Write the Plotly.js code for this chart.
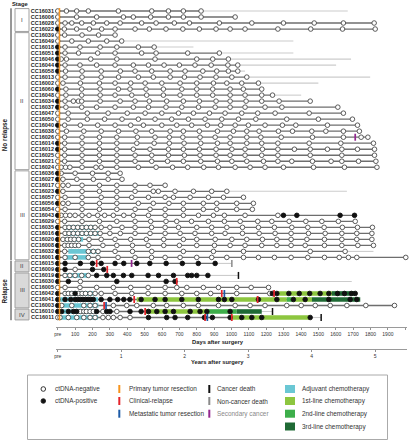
<!DOCTYPE html>
<html><head><meta charset="utf-8">
<script src="https://cdn.plot.ly/plotly-3.0.1.min.js"></script>
<style>html,body{margin:0;padding:0;background:#fff}#chart{width:411px;height:440px}</style>
</head><body><div id="chart"></div>
<script>
// ---------------- DATA ----------------
const patients = ['CC16031','CC16006','CC16028','CC16022',
 'CC16039','CC16049','CC16018','CC16051','CC16046','CC16044','CC16058','CC16013','CC16002','CC16060','CC16048','CC16034','CC16037','CC16047','CC16050','CC16040','CC16038','CC16026','CC16014','CC16012','CC16025','CC16021','CC16024',
 'CC16036','CC16027','CC16017','CC16023','CC16057','CC16056','CC16054','CC16043','CC16029','CC16035','CC16016','CC16020','CC16008','CC16032','CC16001',
 'CC16015','CC16009','CC16019','CC16030','CC16005','CC16042','CC16041','CC16003','CC16010','CC16011'];

// ctDNA-negative sample days per patient
const negDays = [
 [0,50,109,176,349,541,637,723,825],
 [0,109,224,378,435,535,637,723,825,1021],
 [0,42,81,138,205,282,359,483,566,671,758,930,1117,1299,1476,1644,1821],
 [38,109,182,253,330,445,527,623,720,815,911,992,1078,1267,1456,1639,1827],
 [0,40,140,235,330],
 [0,81,176,282,368],
 [42,128,244,340,464,555],
 [42,120,230,330,483,566,748,930],
 [20,50,190,340,560,800,892,982],
 [42,128,224,330,435,522,612,700,790,883,979,1036],
 [45,140,250,360,445,541,647,733,835,915,982,1036],
 [0,42,140,250,350,464,550,647,729,819,911,1002,1088],
 [0,30,130,240,330,420,503,599,704,800,896,973,1059,1155],
 [47,138,244,349,416,508,608,714,800,892,992,1068,1174],
 [0,47,138,244,330,426,512,608,704,800,892,992,1078,1174,1236],
 [42,90,119,138,244,359,445,527,627,723,815,911,992,1084,1174,1274,1453],
 [47,138,224,330,435,522,623,714,810,906,992,1078,1193,1290,1612],
 [0,60,170,290,400,503,599,695,781,873,963,1059,1151,1251,1447,1644],
 [0,60,170,270,370,464,560,656,752,848,944,1040,1140,1318,1500,1696],
 [40,130,230,330,420,493,599,685,771,861,938,1021,1097,1193,1293,1370,1552,1725],
 [0,50,150,250,350,450,541,647,723,815,919,1011,1088,1159,1270,1351,1462,1543,1644,1736],
 [0,40,140,240,340,458,560,642,720,819,906,992,1088,1169,1286,1466,1644,1746,1785],
 [40,140,240,340,455,555,642,727,823,919,992,1088,1174,1267,1447,1629,1817],
 [40,140,240,340,435,531,637,723,815,911,1002,1078,1178,1267,1362,1453,1552,1635,1725,1823],
 [0,40,140,240,340,445,541,637,729,819,911,992,1078,1174,1267,1453,1635,1823],
 [0,40,140,240,340,445,541,632,723,823,919,1002,1088,1184,1267,1347,1466,1573,1635,1731,1831],
 [0,20,45,70,140,220,250,340,464,566,661,748,840,925,1021,1107,1193,1299,1472,1650,1837],
 [20,100,200,290,359],
 [30,110,205,290,370],
 [0,30,60,140,240,340,445,531,618],
 [30,140,240,340,445,550,579,675,781,886,973],
 [0,42,140,250,340,426,522,618,666,762,867,954,1069],
 [30,60,140,240,340,464,550,640,723,838,915,1030,1126],
 [0,42,140,240,340,445,531,618,723,838,915,1030,1120],
 [20,45,70,100,140,180,230,270,320,380,435,522,618,723,810,896,959,1078,1267],
 [0,40,140,240,340,445,535,623,685,770,867,959,1050,1151,1232,1332,1428,1520,1615,1712],
 [42,65,90,115,140,165,190,215,250,300,370,445,540,618,695,800,886,973,1063,1155,1247,1347,1439,1533,1638,1725,1811],
 [42,65,90,115,140,165,190,215,244,300,360,445,531,618,704,790,886,963,1063,1159,1251,1343,1443,1539,1635,1721,1808],
 [30,55,75,95,120,180,250,330,420,510,610,723,800,906,1002,1088,1178,1261,1343,1434,1535,1635,1721,1808],
 [40,60,80,100,120,180,260,340,430,520,610,700,800,902,992,1078,1174,1261,1343,1424,1535,1635,1727,1817],
 [40,176,205,232,330,430,541,723,896,1069,1453,1654],
 [42,100,176,232,347,445,540,618,704,800,886,973,1069,1155,1247,1343,1439,1535,1620,1673,1721,2003],
 [],
 [100],
 [42,70,100,138,176],
 [130],
 [0,42,128,224,320,420,520,618,685,743,838,925,1030,1113,1213],
 [42,61,81,120,140,160,186,215,250,330,426,520,618,714,800,880,1030,1220],
 [],
 [23,81,150,186,215,320,397,455,550,627,723,809,925,1021,1107,1193,1318,1401,1482,1568,1664,1773,1938],
 [130,150,165,186,205,260,340],
 [0,13,61,109,150,186,215,260,291,320,359,416]
];

// ctDNA-positive sample days per patient
const posDays = [
 [],[],[],[0],
 [],[],[0],[0],[0],[0],[0],[],[],[0],[],[0],[0],[],[],[0],[],[],[0],[0],[],[],[],
 [0],[0],[],[0],[],[0],[],[0,1299,1376,1625,1708],[],[0],[0],[0],[0],[0],[0],
 [0,42,130,200,250,330,380,455,530,624,717,809,906],
 [0,42,200,265],
 [0,224,282,320,378,426,520,580,666,748,771,800,864],
 [0,61,340,624,675],
 [],
 [0,100,1235,1261,1330,1390,1450,1510,1560,1610,1650,1690,1712],
 [0,42,75,100,115,130,145,160,175,190,205,250,300,345,380,415,480,560,618,714,809,925,959,1002,1155,1261,1356,1424,1560,1683,1721],
 [0],
 [0,23,61,90,109,224,282,301,416,480,522,570,618,666,762,819,858,992],
 [522,627,675,748,844,890,992,1059,1117,1174,1453]
];

// end of follow-up (light grey line) beyond the last sample, null if none
const followEnd = [1669,null,null,null,null,1356,781,1356,1688,1602,1078,1798,1500,null,1401,null,null,null,null,null,null,null,null,null,null,null,null,
 null,null,null,1664,null,null,null,null,null,null,null,null,null,1817,null,
 1002,360,1040,1692,null,null,null,null,1236,1516];

// primary tumor resection day per patient
const primaryResection = [10,10,10,10,10,10,10,10,10,10,10,10,10,10,10,10,10,10,10,10,10,10,10,10,10,10,10,
 10,10,10,10,10,10,10,10,10,10,10,10,10,10,10,10,10,10,10,10,10,10,10,10,10];

// events: [patientIndex, day]
const clinicalRelapse = [[42,224],[43,285],[45,685],[47,944],[47,1245],[48,440],[48,1150],[49,267],[50,503],[51,848],[51,1002]];
const metastaticResection = [[47,959],[49,278],[51,861]];
const cancerDeath = [[44,1040],[50,1236],[51,1516]];
const nonCancerDeath = [[42,1002]];
const secondaryCancer = [[21,1712],[42,425]];

// treatments: [patientIndex, startDay, endDay]
const adjuvantChemo = [[36,42,215],[37,42,244],[38,42,146],[39,42,117],[40,61,244],[41,32,186],[44,32,176],[47,32,203],[48,13,232],[49,4,234],[50,13,226],[51,2,232]];
const firstLine = [[47,1261,1578],[48,455,1318],[48,1347,1463],[50,503,860],[51,1002,1453]];
const secondLine = [[48,1318,1347],[50,860,1030]];
const thirdLine = [[47,1578,1712],[48,1463,1741],[50,1030,1174]];

// stage groups
const stageLabels = ['I','II','III','II','III','IV'];
const stageFirst = [0,4,27,42,44,50];
const stageLast = [3,26,41,43,49,51];
const stageRelapse = [false,false,false,true,true,true];
const outcomeLabels = ['No relapse','Relapse'];
const outcomeFirst = [0,42];
const outcomeLast = [41,51];

// axis ticks
const dayTicks = [0,100,200,300,400,500,600,700,800,900,1000,1100,1200,1300,1400,1500,1600,1700,1800,1900,2000];
const dayTickText = ['pre','100','200','300','400','500','600','700','800','900','1000','1100','1200','1300','1400','1500','1600','1700','1800','1900','2000'];
const yearTicks = [0,1,2,3,4,5];
const yearTickText = ['pre','1','2','3','4','5'];

// legend
const legendLabels = ['ctDNA-negative','ctDNA-positive','Primary tumor resection','Clinical-relapse','Metastatic tumor resection','Cancer death','Non-cancer death','Secondary cancer','Adjuvant chemotherapy','1st-line chemotherapy','2nd-line chemotherapy','3rd-line chemotherapy'];

// ---------------- STYLE / GEOMETRY ----------------
const FONT = 'Liberation Sans, Arial, sans-serif';
const W = 411, H = 440;
const L = 56, R = 407, T = 8, PB = 350;
const xp = px => (px - L) / (R - L);
const yp = py => (PB - py) / (PB - T);
const C = {
  dark:'#6e6e6e', light:'#cccccc', orange:'#f7941d', red:'#e5242b', blue:'#1c5aa6',
  black:'#111111', grey:'#8a8a8a', purple:'#93278f',
  cyan:'#6ac7d4', l1:'#8dc63f', l2:'#3dae4a', l3:'#1f6a35'
};

// ---------------- BUILD TRACES ----------------
const darkX=[], darkY=[], lightX=[], lightY=[];
patients.forEach((p,i)=>{
  const all = negDays[i].concat(posDays[i]);
  const last = Math.max.apply(null, all);
  darkX.push(0,last,null); darkY.push(i,i,null);
  if (followEnd[i] !== null && followEnd[i] > last) { lightX.push(last,followEnd[i],null); lightY.push(i,i,null); }
});
function segs(list){ const x=[],y=[]; list.forEach(d=>{x.push(d[1],d[2],null); y.push(d[0],d[0],null);}); return {x,y}; }
function pts(list){ return {x:list.map(d=>d[1]), y:list.map(d=>d[0])}; }
function flat(arr){ const x=[],y=[]; arr.forEach((a,i)=>a.forEach(d=>{x.push(d);y.push(i);})); return {x,y}; }

const traces = [];
traces.push({type:'scatter',mode:'lines',x:lightX,y:lightY,line:{color:C.light,width:1.1},hoverinfo:'skip',cliponaxis:false});
traces.push({type:'scatter',mode:'lines',x:darkX,y:darkY,line:{color:C.dark,width:1.3},hoverinfo:'skip',cliponaxis:false});
[[adjuvantChemo,C.cyan],[firstLine,C.l1],[secondLine,C.l2],[thirdLine,C.l3]].forEach(([lst,col])=>{
  const s = segs(lst);
  traces.push({type:'scatter',mode:'lines',x:s.x,y:s.y,line:{color:col,width:4.6},hoverinfo:'skip',cliponaxis:false});
});
const nf = flat(negDays), pf = flat(posDays);
traces.push({type:'scatter',mode:'markers',x:nf.x,y:nf.y,marker:{symbol:'circle',size:4.6,color:'#ffffff',line:{color:'#4a4a4a',width:0.9}},hoverinfo:'skip',cliponaxis:false});
traces.push({type:'scatter',mode:'markers',x:pf.x,y:pf.y,marker:{symbol:'circle',size:4.6,color:'#111111',line:{color:'#111111',width:0.9}},hoverinfo:'skip',cliponaxis:false});
function ev(list,col,sz,w){ const p=pts(list); return {type:'scatter',mode:'markers',x:p.x,y:p.y,marker:{symbol:'line-ns',size:sz,color:col,line:{color:col,width:w}},hoverinfo:'skip',cliponaxis:false}; }
traces.push(ev(primaryResection.map((d,i)=>[i,d]),C.orange,4.2,1.5));
traces.push(ev(clinicalRelapse,C.red,5,1.7));
traces.push(ev(metastaticResection,C.blue,5,1.7));
traces.push(ev(cancerDeath,C.black,5,1.5));
traces.push(ev(nonCancerDeath,C.grey,5,1.5));
traces.push(ev(secondaryCancer,C.purple,5,1.7));
// years axis carrier
traces.push({type:'scatter',mode:'markers',x:yearTicks.map(v=>v*365.25),y:yearTicks.map(()=>0),xaxis:'x2',yaxis:'y',marker:{opacity:0},hoverinfo:'skip'});

// ---------------- SHAPES & ANNOTATIONS ----------------
const shapes = [], annotations = [];
const tf = (size,bold,color)=>({family:FONT,size:size,color:color||'#222',weight:bold?700:400});

stageLabels.forEach((s,k)=>{
  shapes.push({type:'rect',xref:'paper',yref:'y',x0:xp(15),x1:xp(29),y0:stageFirst[k]-0.4,y1:stageLast[k]+0.4,
    fillcolor:stageRelapse[k]?'#d9d9d9':'#ffffff',line:{color:'#a0a0a0',width:1},layer:'below'});
  annotations.push({xref:'paper',yref:'y',x:xp(22),y:(stageFirst[k]+stageLast[k])/2,text:s,showarrow:false,font:tf(6,false,'#444'),xanchor:'center',yanchor:'middle'});
});
outcomeLabels.forEach((s,k)=>{
  shapes.push({type:'line',xref:'paper',yref:'y',x0:xp(11),x1:xp(11),y0:outcomeFirst[k]-0.45,y1:outcomeLast[k]+0.45,line:{color:'#333',width:1}});
  annotations.push({xref:'paper',yref:'y',x:xp(5),y:(outcomeFirst[k]+outcomeLast[k])/2,text:s,textangle:-90,showarrow:false,font:tf(6.3,true),xanchor:'center',yanchor:'middle'});
});
annotations.push({xref:'paper',yref:'paper',x:xp(20),y:yp(4),text:'Stage',showarrow:false,font:tf(5.8,true),xanchor:'center',yanchor:'middle'});
annotations.push({xref:'paper',yref:'paper',x:xp(218),y:yp(342),text:'Days after surgery',showarrow:false,font:tf(5.8,true),xanchor:'center',yanchor:'middle'});
annotations.push({xref:'paper',yref:'paper',x:xp(217),y:yp(362),text:'Years after surgery',showarrow:false,font:tf(5.8,true),xanchor:'center',yanchor:'middle'});

// legend box
shapes.push({type:'rect',xref:'paper',yref:'paper',x0:xp(27.5),x1:xp(387.5),y0:yp(375),y1:yp(439.5),line:{color:'#aaaaaa',width:1},fillcolor:'rgba(0,0,0,0)'});
const legCols = [43.3,119.3,209.3,290];
const legTextX = [52.5,126.5,215,300];
const legRowsY = [389,401,413.7,426.5];
const legendKinds = [['circ','#ffffff'],['circ','#111111'],['bar',C.orange],['bar',C.red],['bar',C.blue],['bar',C.black],['bar',C.grey],['bar',C.purple],['sq',C.cyan],['sq',C.l1],['sq',C.l2],['sq',C.l3]];
const legendCol = [0,0,1,1,1,2,2,2,3,3,3,3];
const legendRow = [0,1,0,1,2,0,1,2,0,1,2,3];
legendLabels.forEach((lab,k)=>{
  const cx = legCols[legendCol[k]], cy = legRowsY[legendRow[k]];
  const kind = legendKinds[k][0], col = legendKinds[k][1];
  if (kind==='circ') shapes.push({type:'circle',xref:'paper',yref:'paper',x0:xp(cx-2.3),x1:xp(cx+2.3),y0:yp(cy+2.3),y1:yp(cy-2.3),fillcolor:col,line:{color:'#222',width:0.9}});
  if (kind==='bar') shapes.push({type:'rect',xref:'paper',yref:'paper',x0:xp(cx-1),x1:xp(cx+1),y0:yp(cy+4),y1:yp(cy-4),fillcolor:col,line:{width:0}});
  if (kind==='sq') shapes.push({type:'rect',xref:'paper',yref:'paper',x0:xp(cx-5),x1:xp(cx+5),y0:yp(cy+4),y1:yp(cy-4),fillcolor:col,line:{width:0}});
  annotations.push({xref:'paper',yref:'paper',x:xp(legTextX[legendCol[k]]),y:yp(cy),text:lab,showarrow:false,xanchor:'left',yanchor:'middle',
    font:tf(6.4,false,lab==='Secondary cancer'?'#888':'#333')});
});

// ---------------- LAYOUT ----------------
const rowIdx = patients.map((p,i)=>i);
const axisCommon = {range:[-10,2010],showgrid:false,zeroline:false,showline:true,linecolor:'#9a9a9a',linewidth:1,
  ticks:'outside',ticklen:2,tickwidth:0.8,tickcolor:'#777',tickfont:{family:FONT,size:5,color:'#333'}};
const layout = {
  width:W,height:H,margin:{l:L,r:W-R,t:T,b:H-PB,pad:0},paper_bgcolor:'#fff',plot_bgcolor:'#fff',showlegend:false,
  xaxis:Object.assign({},axisCommon,{anchor:'y',tickvals:dayTicks,ticktext:dayTickText,domain:[0,1]}),
  xaxis2:Object.assign({},axisCommon,{overlaying:'x',anchor:'free',position:0.003,side:'bottom',tickvals:yearTicks.map(v=>v*365.25),ticktext:yearTickText}),
  yaxis:{domain:[(PB-327)/(PB-T),1],range:[52.58,-0.5],tickvals:rowIdx,ticktext:patients,showgrid:false,zeroline:false,showline:false,ticks:'',
    ticklabelstandoff:1,tickfont:{family:FONT,size:5.5,color:'#222',weight:700}},
  shapes:shapes,annotations:annotations
};
Plotly.newPlot('chart',traces,layout,{staticPlot:true,displayModeBar:false});
</script></body></html>
